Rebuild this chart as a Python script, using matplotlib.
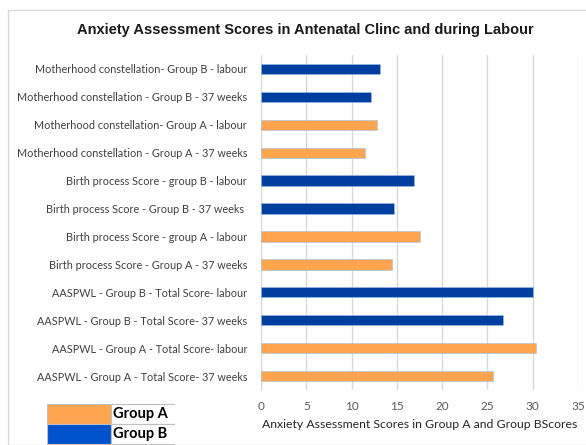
import matplotlib.pyplot as plt
from matplotlib.patches import Rectangle

plt.rcParams['font.family'] = ['Lato', 'DejaVu Sans']

categories = [
    'AASPWL - Group A - Total Score- 37 weeks',
    'AASPWL - Group A - Total Score- labour',
    'AASPWL - Group B - Total Score- 37 weeks',
    'AASPWL - Group B - Total Score- labour',
    'Birth process Score - Group A - 37 weeks',
    'Birth process Score - group A - labour',
    'Birth process Score - Group B - 37 weeks ',
    'Birth process Score - group B - labour',
    'Motherhood constellation - Group A - 37 weeks',
    'Motherhood constellation- Group A - labour',
    'Motherhood constellation - Group B - 37 weeks',
    'Motherhood constellation- Group B - labour',
]
scores = [25.6, 30.4, 26.7, 30.0, 14.5, 17.6, 14.7, 16.9, 11.5, 12.8, 12.1, 13.1]
groups = ['A', 'A', 'B', 'B', 'A', 'A', 'B', 'B', 'A', 'A', 'B', 'B']

orange = '#FFA550'
blue = '#003FA0'
colors = [orange if g == 'A' else blue for g in groups]

fig = plt.figure(figsize=(5.86, 4.45), dpi=100)
fig.patches.append(Rectangle((8 / 586, 0), 1, 1 - 10 / 445, transform=fig.transFigure,
                             fill=False, edgecolor='#d9d9d9', linewidth=1))

ax = fig.add_axes([261 / 586, 1 - 390 / 445, 317 / 586, 335 / 445])
y = list(range(len(categories)))
ax.barh(y, scores, height=0.37, color=colors, edgecolor='#9dc3e6', linewidth=0.4, zorder=3)
ax.set_ylim(-0.5, len(categories) - 0.5)
ax.set_xlim(0, 35)
ax.set_xticks(range(0, 36, 5))
ax.set_yticks(y)
ax.set_yticklabels(categories, fontsize=7.85, color='#404040')
ax.tick_params(axis='both', length=0, pad=10)
ax.tick_params(axis='x', labelsize=8.5, labelcolor='#595959', pad=8)
ax.grid(axis='x', color='#d9d9d9', linewidth=1, zorder=0)
for s in ['top', 'right', 'bottom']:
    ax.spines[s].set_visible(False)
ax.spines['left'].set_color('#d9d9d9')
ax.set_xlabel('Anxiety Assessment Scores in Group A and Group BScores', fontsize=8.8,
              color='#262626', labelpad=5)

fig.text(305 / 586, 1 - 30 / 445, 'Anxiety Assessment Scores in Antenatal Clinc and during Labour',
         ha='center', va='center', fontsize=10.5, fontweight='bold',
         family=['Liberation Sans', 'DejaVu Sans'], color='#1a1a1a')

# legend drawn as a small table
leg = fig.add_axes([47 / 586, 0, 128 / 586, 41 / 445])
leg.set_xlim(0, 128)
leg.set_ylim(0, 41)
leg.axis('off')
rows = [('Group A', orange), ('Group B', '#0052CC')]
for i, (lab, c) in enumerate(rows):
    y0 = 41 - 20 * (i + 1)
    leg.add_patch(Rectangle((0, y0), 64, 20, facecolor=c, edgecolor='#bfbfbf', linewidth=0.8))
    leg.add_patch(Rectangle((64, y0), 64, 20, facecolor='white', edgecolor='#bfbfbf', linewidth=0.8))
    leg.text(66, y0 + 10, lab, va='center', ha='left', fontsize=10.5, fontweight='bold', color='black')

fig.savefig('out.png', dpi=100)
